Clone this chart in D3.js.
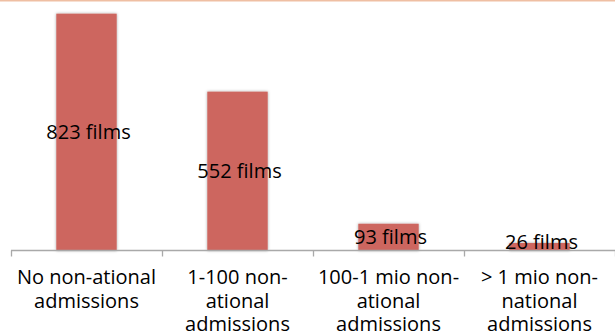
<!DOCTYPE html>
<html>
<head>
<meta charset="utf-8">
<script src="https://cdn.jsdelivr.net/npm/d3@7"></script>
<style>
  html, body { margin: 0; padding: 0; background: #fff; }
  svg { display: block; }
  text { font-family: "Open Sans", "Noto Sans", sans-serif; fill: #000; }
</style>
</head>
<body>
<svg id="chart" width="615" height="334"></svg>
<script>
// Films by number of non-national admissions
const categories = ["No non-ational admissions", "1-100 non-ational admissions", "100-1 mio non-ational admissions", "> 1 mio non-national admissions"];
const categoryLines = [
  ["No non-ational", "admissions"],
  ["1-100 non-", "ational", "admissions"],
  ["100-1 mio non-", "ational", "admissions"],
  ["> 1 mio non-", "national", "admissions"]
];
const films = [823, 552, 93, 26];
const labelSuffix = " films";

const W = 615, H = 334;
const svg = d3.select("#chart");

// soft shadow around bars
const defs = svg.append("defs");
const f = defs.append("filter").attr("id", "barShadow")
  .attr("x", "-30%").attr("y", "-30%").attr("width", "160%").attr("height", "160%");
f.append("feDropShadow").attr("dx", 0).attr("dy", 0)
  .attr("stdDeviation", 1.8).attr("flood-color", "#000").attr("flood-opacity", 0.35);

// thin accent line along the top edge
svg.append("rect").attr("x", 0).attr("y", 0).attr("width", W).attr("height", 1.5)
  .attr("fill", "#efbfa3");

const x = d3.scaleBand().domain(categories).range([11, 615])
  .paddingInner(0.6).paddingOuter(0.3);
const baseY = 250.5;
const y = d3.scaleLinear().domain([0, 900]).range([baseY, baseY - 259]);

const data = categories.map((c, i) => ({ c, v: films[i], lines: categoryLines[i] }));

// bars
svg.append("g").selectAll("rect").data(data).join("rect")
  .attr("x", d => x(d.c))
  .attr("y", d => y(d.v))
  .attr("width", x.bandwidth())
  .attr("height", d => baseY - y(d.v))
  .attr("fill", "#cd665f")
  .attr("filter", "url(#barShadow)");

// category axis
const axisG = svg.append("g");
axisG.append("line").attr("x1", 11).attr("x2", W).attr("y1", baseY).attr("y2", baseY)
  .attr("stroke", "#a9a9a9").attr("stroke-width", 1.3);
const step = x.step();
const tickXs = categories.map(c => x(c) - x.paddingInner() * step / 2 - (x(c) === x(categories[0]) ? (x.paddingOuter() - x.paddingInner() / 2) * step : 0));
const bounds = d3.range(categories.length + 1).map(i => 11 + i * step);
axisG.selectAll("line.tick").data(bounds).join("line").attr("class", "tick")
  .attr("x1", d => Math.round(d) + 0.5).attr("x2", d => Math.round(d) + 0.5)
  .attr("y1", baseY).attr("y2", baseY + 6)
  .attr("stroke", "#a9a9a9").attr("stroke-width", 1.3);

// category labels (wrapped)
const lab = axisG.selectAll("text.cat").data(data).join("text").attr("class", "cat")
  .attr("text-anchor", "middle").attr("font-size", 20);
lab.each(function(d) {
  const t = d3.select(this);
  const cx = x(d.c) + x.bandwidth() / 2;
  d.lines.forEach((ln, i) => {
    t.append("tspan").attr("x", cx).attr("y", 284 + i * 23.5).text(ln);
  });
});

// value labels centred on bars
svg.append("g").selectAll("text").data(data).join("text")
  .attr("text-anchor", "middle").attr("font-size", 20)
  .attr("x", d => x(d.c) + x.bandwidth() / 2 + 2)
  .attr("y", d => Math.min((y(d.v) + baseY) / 2, baseY - 8.5))
  .attr("dy", "0.35em")
  .text(d => d.v + labelSuffix);
</script>
</body>
</html>
